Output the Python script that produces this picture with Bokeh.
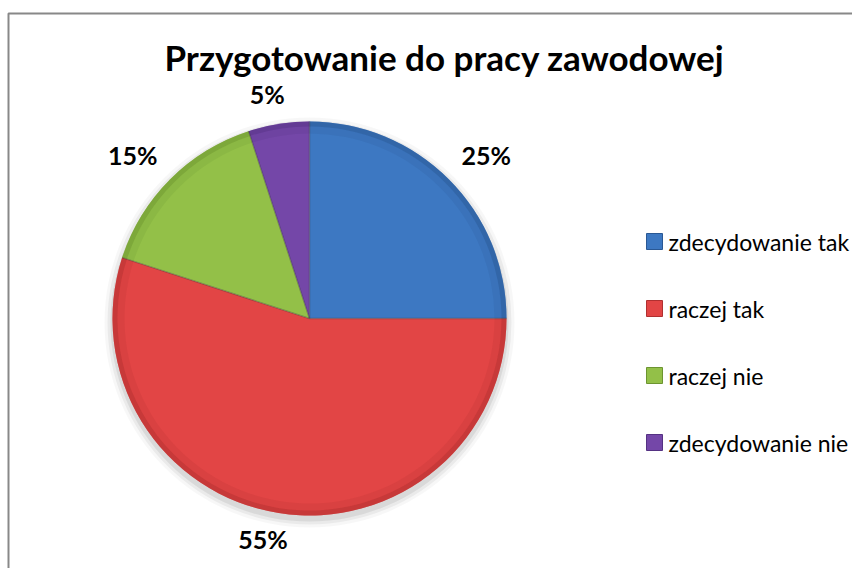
import math
from bokeh.plotting import figure
from bokeh.models import Range1d, ColumnDataSource
from bokeh.core.properties import value
from bokeh.embed import file_html
from bokeh.resources import INLINE

# ---- data ----
categories = ["zdecydowanie tak", "raczej tak", "raczej nie", "zdecydowanie nie"]
values = [25, 55, 15, 5]
pct_labels = ["25%", "55%", "15%", "5%"]
title_text = "Przygotowanie do pracy zawodowej"

# ---- styles ----
colors = ["#3D78C2", "#E24545", "#93C048", "#7447A8"]
rim_colors = ["#2A5894", "#B03030", "#6C9430", "#553283"]
FONT = "Lato"

W, H = 852, 568


def X(px):
    return px


def Y(py):
    return H - py


p = figure(width=W, height=H, x_range=Range1d(0, W), y_range=Range1d(0, H),
           output_backend="svg", toolbar_location=None, min_border=0,
           x_axis_type=None, y_axis_type=None)
p.grid.visible = False
p.outline_line_color = None
p.background_fill_color = "white"
p.border_fill_color = "white"

# chart border (extends beyond the visible area on right/bottom)
p.quad(left=[X(8)], right=[W + 50], top=[Y(13)], bottom=[-50],
       fill_color=None, line_color="#888888", line_width=2)

cx, cy, R = X(309), Y(318), 197

# soft shadow under the pie
for dr, a in [(8, 0.03), (5, 0.05), (2, 0.07)]:
    p.circle(x=[cx], y=[cy - 4], radius=R + dr, fill_color="#000000",
             fill_alpha=a, line_color=None)

total = float(sum(values))
starts, ends, mids = [], [], []
cum = 0.0
for v in values:
    s = math.pi / 2 - 2 * math.pi * cum / total
    e = math.pi / 2 - 2 * math.pi * (cum + v) / total
    starts.append(s)
    ends.append(e)
    mids.append((s + e) / 2)
    cum += v

src = ColumnDataSource(dict(start=starts, end=ends, color=colors, rim=rim_colors))
p.wedge(x=cx, y=cy, radius=R, start_angle="start", end_angle="end",
        direction="clock", fill_color="color", line_color=None, source=src)
# bevel rim
p.annular_wedge(x=cx, y=cy, inner_radius=R - 12, outer_radius=R - 5,
                start_angle="start", end_angle="end", direction="clock",
                fill_color="rim", fill_alpha=0.18, line_color=None, source=src)
p.annular_wedge(x=cx, y=cy, inner_radius=R - 5, outer_radius=R,
                start_angle="start", end_angle="end", direction="clock",
                fill_color="rim", fill_alpha=0.55, line_color=None, source=src)
# slice separators
p.segment(x0=[cx] * len(starts), y0=[cy] * len(starts),
          x1=[cx + R * math.cos(a) for a in starts],
          y1=[cy + R * math.sin(a) for a in starts],
          line_color="#333333", line_alpha=0.35, line_width=1.5)

# outside-end data labels (box corner anchored just outside the rim)
lab_x, lab_y = [], []
gap = 21
for lab, m in zip(pct_labels, mids):
    w = 15 * len(lab)
    h = 14
    ax = cx + (R + gap) * math.cos(m)
    ay = cy + (R + gap) * math.sin(m)
    fx = max(-1.0, min(1.0, 3.5 * math.cos(m)))
    fy = 1.0 if math.sin(m) >= 0 else -1.0
    lab_x.append(ax + fx * w / 2)
    lab_y.append(ay + fy * h / 2 + 2)
p.text(x=lab_x, y=lab_y, text=pct_labels, text_align="center",
       text_baseline="middle", text_font=value(FONT), text_font_style="bold",
       text_font_size="25px", text_color="#000000")

# title
p.text(x=[X(444)], y=[Y(56)], text=[title_text], text_align="center",
       text_baseline="middle", text_font=value(FONT), text_font_style="bold",
       text_font_size="35px", text_color="#000000")

# legend
leg_top, leg_step = Y(241), 67
leg_y = [leg_top - i * leg_step for i in range(len(categories))]
p.rect(x=[X(654)] * len(categories), y=leg_y, width=16, height=16,
       fill_color=colors, line_color=rim_colors, line_width=1)
p.text(x=[X(668)] * len(categories), y=leg_y, text=categories,
       text_align="left", text_baseline="middle", text_font=value(FONT),
       text_font_size="23px", text_color="#000000")

open("out.html", "w").write(file_html(p, INLINE))
